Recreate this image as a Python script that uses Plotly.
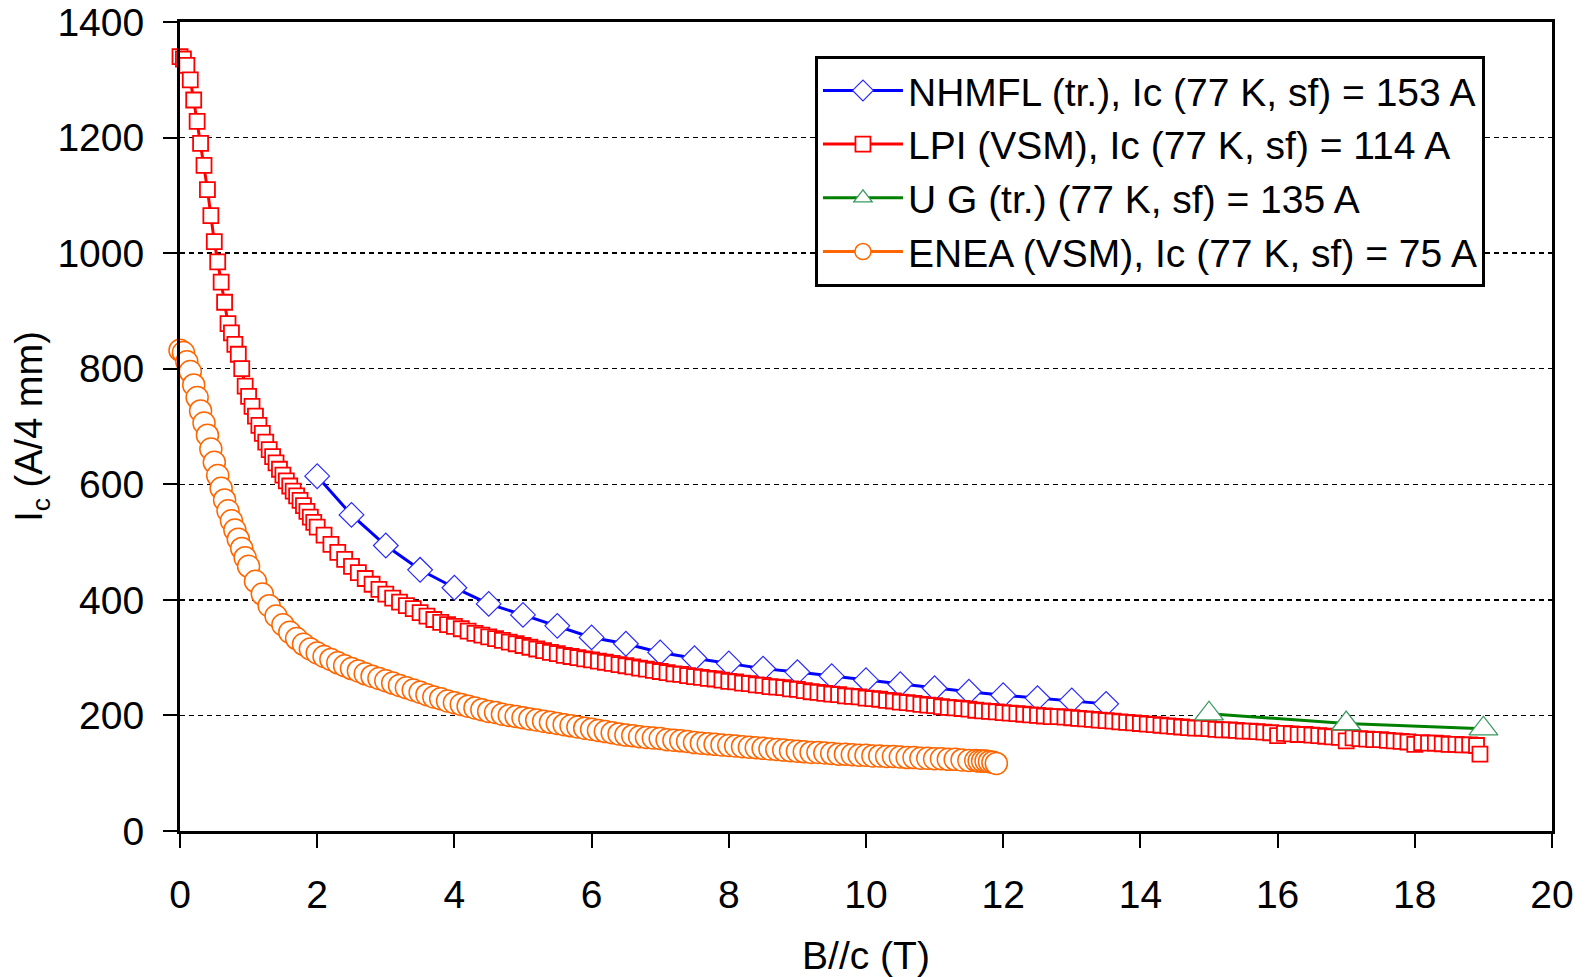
import plotly.graph_objects as go

# ---------------- data ----------------
NHMFL_B = [2.0, 2.5, 3.0, 3.5, 4.0, 4.5, 5.0, 5.5, 6.0, 6.5, 7.0, 7.5,
           8.0, 8.5, 9.0, 9.5, 10.0, 10.5, 11.0, 11.5, 12.0, 12.5, 13.0, 13.5]
NHMFL_Ic = [614, 547, 494, 452, 421, 393, 374, 355, 335, 324, 309, 299,
            290, 281, 275, 268, 261, 254, 247, 241, 235, 230, 226, 220]

LPI_B = [0.00, 0.05, 0.10, 0.15, 0.20, 0.25, 0.30, 0.35, 0.40, 0.45,
         0.50, 0.55, 0.60, 0.65, 0.70, 0.75, 0.80, 0.85, 0.90, 0.95,
         1.00, 1.05, 1.10, 1.15, 1.20, 1.25, 1.30, 1.35, 1.40, 1.45,
         1.50, 1.55, 1.60, 1.65, 1.70, 1.75, 1.80, 1.85, 1.90, 1.95,
         2.0, 2.1, 2.2, 2.3, 2.4, 2.5, 2.6, 2.7, 2.8, 2.9,
         3.0, 3.1, 3.2, 3.3, 3.4, 3.5, 3.6, 3.7, 3.8, 3.9,
         4.0, 4.1, 4.2, 4.3, 4.4, 4.5, 4.6, 4.7, 4.8, 4.9,
         5.0, 5.1, 5.2, 5.3, 5.4, 5.5, 5.6, 5.7, 5.8, 5.9,
         6.0, 6.1, 6.2, 6.3, 6.4, 6.5, 6.6, 6.7, 6.8, 6.9,
         7.0, 7.1, 7.2, 7.3, 7.4, 7.5, 7.6, 7.7, 7.8, 7.9,
         8.0, 8.1, 8.2, 8.3, 8.4, 8.5, 8.6, 8.7, 8.8, 8.9,
         9.0, 9.1, 9.2, 9.3, 9.4, 9.5, 9.6, 9.7, 9.8, 9.9,
         10.0, 10.1, 10.2, 10.3, 10.4, 10.5, 10.6, 10.7, 10.8, 10.9,
         11.0, 11.1, 11.2, 11.3, 11.4, 11.5, 11.6, 11.7, 11.8, 11.9,
         12.0, 12.1, 12.2, 12.3, 12.4, 12.5, 12.6, 12.7, 12.8, 12.9,
         13.0, 13.1, 13.2, 13.3, 13.4, 13.5, 13.6, 13.7, 13.8, 13.9,
         14.0, 14.1, 14.2, 14.3, 14.4, 14.5, 14.6, 14.7, 14.8, 14.9,
         15.0, 15.1, 15.2, 15.3, 15.4, 15.5, 15.6, 15.7, 15.8, 15.9,
         16.0, 16.1, 16.2, 16.3, 16.4, 16.5, 16.6, 16.7, 16.8, 16.9,
         17.0, 17.1, 17.2, 17.3, 17.4, 17.5, 17.6, 17.7, 17.8, 17.9,
         18.0, 18.1, 18.2, 18.3, 18.4, 18.5, 18.6, 18.7, 18.8, 18.9,
         18.95]
LPI_Ic = [1340, 1336, 1325, 1300, 1265, 1228, 1190, 1152, 1110, 1065,
          1020, 985, 950, 915, 878, 862, 842, 825, 800, 770,
          752, 735, 718, 702, 688, 673, 660, 648, 637, 626,
          616, 606, 597, 588, 580, 572, 563, 553, 543, 534,
          526, 512, 496, 482, 470, 458, 447, 437, 427, 418,
          410, 403, 396, 390, 385, 378, 372, 366, 361, 357,
          354, 350, 346, 342, 339, 336, 333, 330, 327, 324,
          321, 318, 315, 312, 309, 307, 304, 302, 300, 298,
          296, 294, 292, 290, 288, 286, 284, 282, 280, 278,
          276, 274, 272, 271, 269, 267, 266, 264, 263, 261,
          259, 258, 256, 255, 253, 252, 250, 249, 248, 246,
          245, 243, 241, 240, 238, 237, 236, 234, 233, 232,
          230, 229, 228, 226, 225, 223, 222, 221, 219, 218,
          217, 215, 214, 213, 212, 211, 209, 208, 207, 206,
          205, 204, 203, 202, 201, 200, 199, 198, 198, 197,
          196, 195, 194, 193, 192, 191, 190, 189, 188, 187,
          186, 185, 184, 183, 182, 181, 180, 179, 178, 178,
          177, 176, 175, 175, 174, 173, 173, 172, 171, 170,
          165, 169, 168, 167, 167, 166, 165, 164, 163, 162,
          156, 161, 160, 159, 158, 158, 157, 156, 155, 154,
          150, 153, 152, 152, 151, 150, 150, 149, 149, 148,
          133]

UG_B = [15, 17, 19]
UG_Ic = [203, 186, 177]

ENEA_B = [0.00, 0.05, 0.10, 0.15, 0.20, 0.25, 0.30, 0.35, 0.40, 0.45,
          0.50, 0.55, 0.60, 0.65, 0.70, 0.75, 0.80, 0.85, 0.90, 0.95,
          1.0, 1.1, 1.2, 1.3, 1.4, 1.5, 1.6, 1.7, 1.8, 1.9,
          2.0, 2.1, 2.2, 2.3, 2.4, 2.5, 2.6, 2.7, 2.8, 2.9,
          3.0, 3.1, 3.2, 3.3, 3.4, 3.5, 3.6, 3.7, 3.8, 3.9,
          4.0, 4.1, 4.2, 4.3, 4.4, 4.5, 4.6, 4.7, 4.8, 4.9,
          5.0, 5.1, 5.2, 5.3, 5.4, 5.5, 5.6, 5.7, 5.8, 5.9,
          6.0, 6.1, 6.2, 6.3, 6.4, 6.5, 6.6, 6.7, 6.8, 6.9,
          7.0, 7.1, 7.2, 7.3, 7.4, 7.5, 7.6, 7.7, 7.8, 7.9,
          8.0, 8.1, 8.2, 8.3, 8.4, 8.5, 8.6, 8.7, 8.8, 8.9,
          9.0, 9.1, 9.2, 9.3, 9.4, 9.5, 9.6, 9.7, 9.8, 9.9,
          10.0, 10.1, 10.2, 10.3, 10.4, 10.5, 10.6, 10.7, 10.8, 10.9,
          11.0, 11.1, 11.2, 11.3, 11.4, 11.5, 11.6, 11.65, 11.7, 11.75,
          11.8, 11.85, 11.9]
ENEA_Ic = [832, 828, 812, 795, 772, 750, 727, 706, 685, 661,
           638, 615, 593, 573, 554, 537, 521, 505, 489, 473,
           458, 432, 410, 390, 372, 357, 344, 333, 323, 315,
           308, 302, 297, 291, 286, 281, 277, 272, 268, 264,
           260, 256, 252, 248, 244, 240, 236, 232, 229, 225,
           222, 219, 216, 213, 210, 207, 205, 202, 200, 198,
           196, 194, 192, 190, 188, 186, 184, 182, 180, 178,
           176, 174, 172, 170, 168, 166, 165, 163, 162, 161,
           160, 158, 157, 156, 155, 153, 152, 151, 150, 149,
           148, 147, 146, 145, 144, 143, 142, 141, 140, 139,
           138, 137, 136, 136, 135, 134, 133, 133, 132, 131,
           131, 130, 130, 129, 129, 128, 127, 127, 126, 126,
           125, 125, 124, 124, 123, 122, 122, 121, 121, 121,
           120, 119, 117]

NAMES = ["NHMFL (tr.), Ic (77 K, sf) = 153 A",
         "LPI (VSM), Ic (77 K, sf) = 114 A",
         "U G (tr.) (77 K, sf) = 135 A",
         "ENEA (VSM), Ic (77 K, sf) = 75 A"]

X_TICKS = [0, 2, 4, 6, 8, 10, 12, 14, 16, 18, 20]
Y_TICKS = [0, 200, 400, 600, 800, 1000, 1200, 1400]

FONT = "Liberation Sans, Arial, sans-serif"

fig = go.Figure()
fig.add_trace(go.Scatter(
    x=NHMFL_B, y=NHMFL_Ic, name=NAMES[0], mode="lines+markers",
    line=dict(color="#0000FF", width=3),
    marker=dict(symbol="diamond", size=19, color="white",
                line=dict(color="#2828FF", width=1.2)),
    cliponaxis=False))
fig.add_trace(go.Scatter(
    x=LPI_B, y=LPI_Ic, name=NAMES[1], mode="lines+markers",
    line=dict(color="#FF0000", width=3),
    marker=dict(symbol="square", size=15, color="white",
                line=dict(color="#FF0000", width=1.8)),
    cliponaxis=False))
fig.add_trace(go.Scatter(
    x=UG_B, y=UG_Ic, name=NAMES[2], mode="lines+markers",
    line=dict(color="#008000", width=3),
    marker=dict(symbol="triangle-up", size=25, color="white",
                line=dict(color="#3A9A60", width=1.3)),
    cliponaxis=False))
fig.add_trace(go.Scatter(
    x=ENEA_B, y=ENEA_Ic, name=NAMES[3], mode="lines+markers",
    line=dict(color="#FF6600", width=3),
    marker=dict(symbol="circle", size=22, color="white",
                line=dict(color="#FF6600", width=1.5)),
    cliponaxis=False))

fig.update_layout(
    width=1585, height=977,
    margin=dict(l=180, r=33, t=22, b=146, autoexpand=False),
    paper_bgcolor="white", plot_bgcolor="white",
    font=dict(family=FONT, color="black", size=39),
    showlegend=True,
    legend=dict(x=0.4628, y=0.9585, xanchor="left", yanchor="top",
                bgcolor="white", bordercolor="black", borderwidth=3,
                font=dict(size=39, family=FONT, color="black"),
                itemwidth=80, tracegroupgap=0),
    xaxis=dict(range=[0, 20], tickvals=X_TICKS, ticktext=[str(v) for v in X_TICKS],
               showgrid=False, zeroline=False,
               showline=True, linecolor="black", linewidth=3, mirror=True,
               ticks="outside", ticklen=14, tickwidth=2, tickcolor="black",
               tickfont=dict(size=39), ticklabelstandoff=13,
               title=dict(text="B//c (T)", font=dict(size=39), standoff=36)),
    yaxis=dict(range=[0, 1400], tickvals=Y_TICKS, ticktext=[str(v) for v in Y_TICKS],
               showgrid=True, gridcolor="black", gridwidth=1.5, griddash="5px,4px",
               zeroline=False,
               showline=True, linecolor="black", linewidth=3, mirror=True,
               ticks="outside", ticklen=14, tickwidth=2, tickcolor="black",
               tickfont=dict(size=39), ticklabelstandoff=11,
               title=dict(text="I<sub>c</sub> (A/4 mm)", font=dict(size=38), standoff=4)),
)

# remove the browser's default 8px body margin so the figure sits at (0, 0)
fig.write_html("out.html",
               config={"displayModeBar": False, "staticPlot": True},
               post_script="document.body.style.margin='0px';document.body.style.overflow='hidden';")
